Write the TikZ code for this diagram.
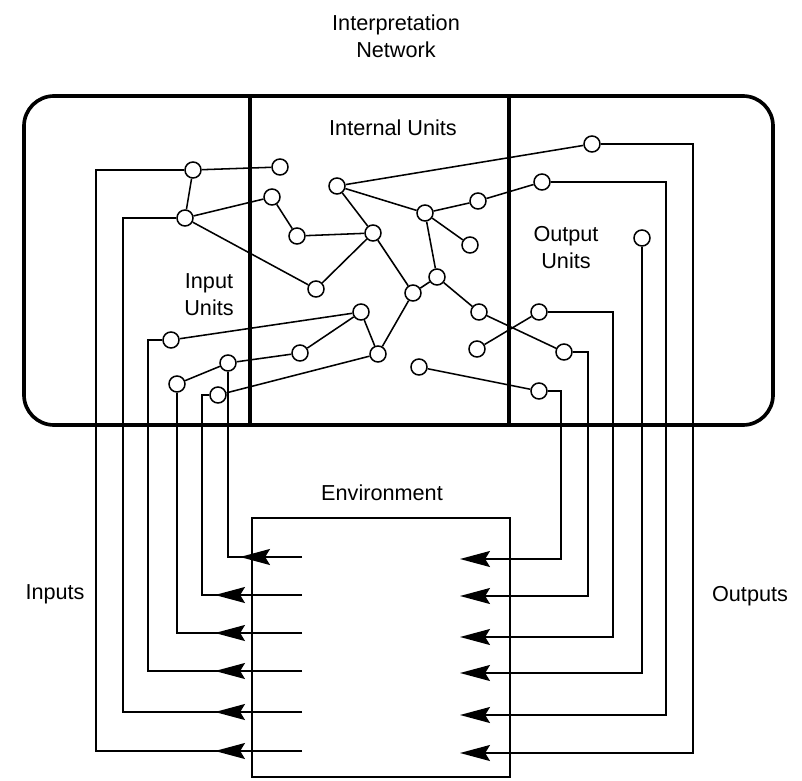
\documentclass[tikz,border=0pt]{standalone}
\usepackage{fontspec}
\setmainfont{Liberation Sans}
\usetikzlibrary{arrows.meta,decorations.markings}

\begin{document}
\begin{tikzpicture}[x=0.025cm, y=-0.025cm,
    font=\fontsize{15.4pt}{19.2pt}\selectfont,
    unit/.style={circle, draw, fill=white, line width=1.1pt,
                 inner sep=0pt, minimum size=0.4cm},
    wire/.style={line width=1.1pt},
    frame/.style={line width=2.6pt},
    envtip/.tip={Stealth[length=0.75cm, width=0.4cm, inset=0.12cm]},
    inarr/.style={postaction={decorate}, decoration={markings,
                  mark=at position #1 with {\arrow{envtip}}}},
    inarr/.default=2.175cm
  ]
  \useasboundingbox (0,0) rectangle (802,781);

  % interpretation network: frame and the two dividers
  \draw[frame, rounded corners=0.75cm] (24,96) rectangle (773,425);
  \draw[frame] (250,96) -- (250,425);
  \draw[frame] (509,96) -- (509,425);
  % environment
  \draw[line width=1.3pt] (252,518) rectangle (510,777);

  % labels
  \node[align=center] (title) at (396,36) {Interpretation\\Network};
  \node (intl) at (393,128) {Internal Units};
  \node[align=center] (inl) at (209,295) {Input\\Units};
  \node[align=center] (outl) at (566,248) {Output\\Units};
  \node (envl) at (382,493) {Environment};
  \node (insl) at (55,594) {Inputs};
  \node (outsl) at (750,596) {Outputs};

  % input units
  \node[unit] (in1) at (228,363) {};
  \node[unit] (in2) at (218,395) {};
  \node[unit] (in3) at (177,384) {};
  \node[unit] (in4) at (171,340) {};
  \node[unit] (in5) at (185,218) {};
  \node[unit] (in6) at (193,170) {};
  % internal units
  \node[unit] (u1) at (280,167) {};
  \node[unit] (u2) at (272,197) {};
  \node[unit] (u3) at (297,236) {};
  \node[unit] (u4) at (316,289) {};
  \node[unit] (u5) at (337,186) {};
  \node[unit] (u6) at (425,213) {};
  \node[unit] (u7) at (478,201) {};
  \node[unit] (u8) at (373,233) {};
  \node[unit] (u9) at (470,245) {};
  \node[unit] (u10) at (437,277) {};
  \node[unit] (u11) at (413,293) {};
  \node[unit] (u12) at (361,312) {};
  \node[unit] (u13) at (479,312) {};
  \node[unit] (u14) at (300,353) {};
  \node[unit] (u15) at (378,354) {};
  \node[unit] (u16) at (477,349) {};
  \node[unit] (u17) at (419,367) {};
  % output units
  \node[unit] (out1) at (539,391) {};
  \node[unit] (out2) at (564,352) {};
  \node[unit] (out3) at (539,312) {};
  \node[unit] (out4) at (642,238) {};
  \node[unit] (out5) at (542,182) {};
  \node[unit] (out6) at (592,144) {};

  % connections inside the network
  \foreach \a/\b in {in6/u1, in6/in5, in5/u2, in5/u4, u2/u3, u3/u8,
                     u8/u4, u8/u5, u8/u11, u5/out6, u5/u6, u6/u7,
                     u7/out5, u6/u9, u6/u10, u10/u11, u10/u13,
                     u13/out2, u11/u15, u15/u12, u15/in2, u12/in4,
                     u12/u14, u14/in1, in1/in3, u16/out3, u17/out1}
    \draw[wire] (\a) -- (\b);

  % environment -> input units
  \coordinate (eL1) at (302,557);
  \coordinate (eL2) at (302,595);
  \coordinate (eL3) at (302,633);
  \coordinate (eL4) at (302,671);
  \coordinate (eL5) at (302,712);
  \coordinate (eL6) at (302,751);
  \coordinate (k2) at (202,395);
  \coordinate (k4) at (148,340);
  \coordinate (k5) at (123,218);
  \coordinate (k6) at (96,170);
  \draw[wire, inarr=1.55cm] (eL1) -| (in1);
  \draw[wire, inarr] (eL2) -| (k2) -- (in2);
  \draw[wire, inarr] (eL3) -| (in3);
  \draw[wire, inarr] (eL4) -| (k4) -- (in4);
  \draw[wire, inarr] (eL5) -| (k5) -- (in5);
  \draw[wire, inarr] (eL6) -| (k6) -- (in6);

  % output units -> environment
  \coordinate (eR1) at (460,559);
  \coordinate (eR2) at (460,596);
  \coordinate (eR3) at (460,637);
  \coordinate (eR4) at (460,673);
  \coordinate (eR5) at (460,715);
  \coordinate (eR6) at (460,753);
  \coordinate (q1) at (561,559);
  \coordinate (q2) at (588,596);
  \coordinate (q3) at (613,637);
  \coordinate (q5) at (666,715);
  \coordinate (q6) at (693,753);
  \draw[wire, -envtip] (out1) -| (q1) -- (eR1);
  \draw[wire, -envtip] (out2) -| (q2) -- (eR2);
  \draw[wire, -envtip] (out3) -| (q3) -- (eR3);
  \draw[wire, -envtip] (out4) |- (eR4);
  \draw[wire, -envtip] (out5) -| (q5) -- (eR5);
  \draw[wire, -envtip] (out6) -| (q6) -- (eR6);
\end{tikzpicture}
\end{document}
